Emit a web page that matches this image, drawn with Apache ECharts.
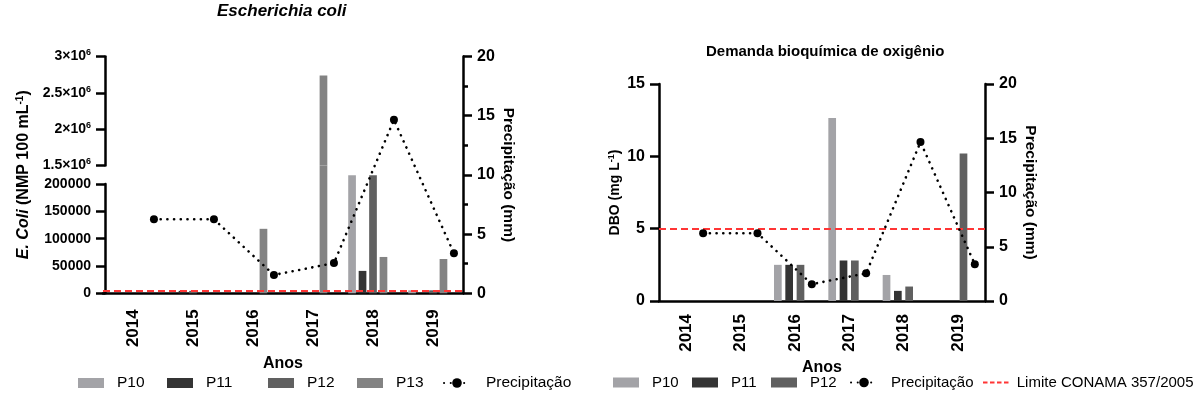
<!DOCTYPE html>
<html>
<head>
<meta charset="utf-8">
<script src="https://cdn.jsdelivr.net/npm/echarts@6/dist/echarts.min.js"></script>
<style>
  html, body { margin: 0; padding: 0; background: #fff; }
  #chart { width: 1195px; height: 401px; }
</style>
</head>
<body>
<div id="chart"></div>
<script>
// ---- data ----
const years = ['2014', '2015', '2016', '2017', '2018', '2019'];

// E. coli (NMP 100 mL-1) per sampling point
const ecoliP10 = [null, null, null, null, 216000, 5500];
const ecoliP11 = [null, 4500, null, null, 41000, null];
const ecoliP12 = [null, 4500, null, null, 216000, 5500];
const ecoliP13 = [null, null, 118000, 2740000, 66500, 62800];

// DBO (mg L-1) per sampling point
const dboP10 = [null, null, 2.5, 12.65, 1.8, null];
const dboP11 = [null, null, 2.5, 2.8, 0.7, null];
const dboP12 = [null, null, 2.5, 2.8, 1.0, 10.2];

// Precipitação (mm)
const precip = [6.25, 6.25, 1.55, 2.55, 14.65, 3.38];

// Limite CONAMA 357/2005
const limitEcoli = 4000;
const limitDbo = 5;

// axis ranges: [min, max, step]
const ecoliLowRange = [0, 200000, 50000];
const ecoliHighRange = [1500000, 3000000, 500000];
const dboRange = [0, 15, 5];
const precipRange = [0, 20, 5];

// ---- styling ----
const FONT = 'Liberation Sans, Arial, sans-serif';
const colors = { P10: '#a3a3a7', P11: '#343434', P12: '#606060', P13: '#838383' };
const RED = '#ff3535';
const AX = { color: '#000', width: 2.5 };

// left panel geometry (broken value axis: upper / gap / lower)
const L = { left: 103, width: 360, upTop: 56.5, upH: 109, lowTop: 184, lowH: 109.3 };
L.gapTop = L.upTop + L.upH;
L.gapH = L.lowTop - L.gapTop;
const gapMax = ecoliLowRange[1] + (ecoliLowRange[1] - ecoliLowRange[0]) * L.gapH / L.lowH;
// right panel geometry
const R = { left: 659, width: 326, top: 84, height: 217 };

const barW = 7.7;
const gapL = 0.36, gapR = 0.47;
const shiftL = 2 * barW * (1 + gapL);   // line sits in the 5th slot of the group
const shiftR = 1.5 * barW * (1 + gapR); // line sits in the 4th slot of the group

const grids = [
  { left: L.left, width: L.width, top: L.lowTop, height: L.lowH },              // 0 lower
  { left: L.left, width: L.width, top: L.gapTop, height: L.gapH },              // 1 gap
  { left: L.left, width: L.width, top: L.upTop, height: L.upH },                // 2 upper
  { left: L.left + shiftL, width: L.width, top: L.upTop, height: L.lowTop + L.lowH - L.upTop }, // 3 precip
  { left: R.left, width: R.width, top: R.top, height: R.height },               // 4 DBO
  { left: R.left + shiftR, width: R.width, top: R.top, height: R.height }       // 5 precip
];

function hiddenX(i) {
  return { type: 'category', gridIndex: i, data: years, show: false };
}
function visibleX(i, margin, gap) {
  return {
    type: 'category', gridIndex: i, data: years,
    axisLine: { lineStyle: AX },
    axisTick: { alignWithLabel: true, length: 10, lineStyle: AX },
    axisLabel: { rotate: 90, margin: margin, color: '#000', fontFamily: FONT, fontSize: 17, fontWeight: 'bold' },
    name: 'Anos', nameLocation: 'middle', nameGap: gap,
    nameTextStyle: { color: '#000', fontFamily: FONT, fontSize: 16, fontWeight: 'bold' }
  };
}
const xAxes = [visibleX(0, 16, 62), hiddenX(1), hiddenX(2), hiddenX(3), visibleX(4, 13, 55), hiddenX(5)];

const supRich = { sup: { fontSize: 9, fontWeight: 'bold', fontFamily: FONT, color: '#000', verticalAlign: 'top', lineHeight: 9 } };

function valueAxis(i, range, extra) {
  return Object.assign({
    type: 'value', gridIndex: i, min: range[0], max: range[1], interval: range[2],
    splitLine: { show: false },
    axisLine: { show: true, lineStyle: AX },
    axisTick: { show: true, length: 9, lineStyle: AX },
    axisLabel: { margin: 14, color: '#000', fontFamily: FONT, fontSize: 16, fontWeight: 'bold' }
  }, extra);
}

const precipAxisName = {
  name: 'Precipitação (mm)', nameLocation: 'middle', nameRotate: -90, nameGap: 37,
  nameTextStyle: { color: '#000', fontFamily: FONT, fontSize: 15.5, fontWeight: 'bold' }
};

const yAxes = [
  // 0: lower E. coli segment
  valueAxis(0, ecoliLowRange, {
    position: 'left', offset: -2,
    axisLabel: { margin: 14, color: '#000', fontFamily: FONT, fontSize: 14, fontWeight: 'bold', formatter: v => String(v) }
  }),
  // 1: gap segment (carries the axis title only)
  {
    type: 'value', gridIndex: 1, min: ecoliLowRange[1], max: gapMax, position: 'left', offset: -2,
    axisLine: { show: false }, axisTick: { show: false }, axisLabel: { show: false }, splitLine: { show: false },
    name: '{it|E. Coli} (NMP 100 mL{sup|-1})', nameLocation: 'middle', nameGap: 72,
    nameTextStyle: {
      color: '#000', fontFamily: FONT, fontSize: 16, fontWeight: 'bold', lineHeight: 18,
      rich: {
        it: { fontStyle: 'italic', fontWeight: 'bold', fontSize: 16, fontFamily: FONT, color: '#000' },
        sup: { fontSize: 10, fontWeight: 'bold', fontFamily: FONT, color: '#000', verticalAlign: 'top', lineHeight: 10 }
      }
    }
  },
  // 2: upper E. coli segment
  valueAxis(2, ecoliHighRange, {
    position: 'left', offset: -2,
    axisLabel: {
      margin: 14, color: '#000', fontFamily: FONT, fontSize: 14, fontWeight: 'bold', lineHeight: 16,
      formatter: v => (v / 1e6) + '×10{sup|6}',
      rich: supRich
    }
  }),
  // 3: precipitation (left panel)
  valueAxis(3, precipRange, Object.assign({
    position: 'right', offset: -shiftL,
    minorTick: { show: true, splitNumber: 2, length: 5, lineStyle: AX }
  }, precipAxisName)),
  // 4: DBO
  valueAxis(4, dboRange, {
    position: 'left',
    name: 'DBO (mg L{sup|-1})', nameLocation: 'middle', nameGap: 25,
    nameTextStyle: {
      color: '#000', fontFamily: FONT, fontSize: 14, fontWeight: 'bold', lineHeight: 16,
      rich: { sup: { fontSize: 9, fontWeight: 'bold', fontFamily: FONT, color: '#000', verticalAlign: 'top', lineHeight: 9 } }
    }
  }),
  // 5: precipitation (right panel)
  valueAxis(5, precipRange, Object.assign({ position: 'right', offset: -shiftR }, precipAxisName))
];

function bar(name, data, g, gap) {
  return {
    type: 'bar', name: name, data: data, xAxisIndex: g, yAxisIndex: g,
    barWidth: barW, barGap: Math.round(gap * 100) + '%',
    itemStyle: { color: colors[name] }, silent: true, clip: true
  };
}
function slot(g, gap) {
  // empty bar that reserves the precipitation position in each group
  return { type: 'bar', data: years.map(() => null), xAxisIndex: g, yAxisIndex: g,
    barWidth: barW, barGap: Math.round(gap * 100) + '%', silent: true };
}
function precipLine(g) {
  return {
    type: 'line', name: 'Precipitação', data: precip, xAxisIndex: g, yAxisIndex: g,
    symbol: 'circle', symbolSize: 8, z: 10, silent: true,
    itemStyle: { color: '#000' },
    lineStyle: { color: '#000', width: 2.6, type: [0.1, 6.6], cap: 'round' }
  };
}
function limitLine(name, value, g) {
  return {
    type: 'line', name: name, data: years.map(() => null), xAxisIndex: g, yAxisIndex: g,
    symbol: 'none', z: 8, silent: true,
    itemStyle: { color: RED },
    lineStyle: { color: RED, width: 2, type: [7, 4] },
    markLine: {
      silent: true, symbol: 'none', label: { show: false },
      lineStyle: { color: RED, width: 2, type: [7, 4] },
      data: [{ yAxis: value }]
    }
  };
}

const series = [];
[0, 1, 2].forEach(g => {
  series.push(bar('P10', ecoliP10, g, gapL), bar('P11', ecoliP11, g, gapL),
              bar('P12', ecoliP12, g, gapL), bar('P13', ecoliP13, g, gapL), slot(g, gapL));
});
series.push(limitLine('limiteEcoli', limitEcoli, 0));
series.push(precipLine(3));
series.push(bar('P10', dboP10, 4, gapR), bar('P11', dboP11, 4, gapR), bar('P12', dboP12, 4, gapR), slot(4, gapR));
series.push(limitLine('Limite CONAMA 357/2005', limitDbo, 4));
series.push(precipLine(5));

// legends, one entry each: [name, left, icon, text gap, font size]
const dashIcon = 'path://M0,0H4.5V2H0Z M7,0H11.5V2H7Z M14,0H18.5V2H14Z M21,0H25.5V2H21Z';
const legendEntries = [
  ['P10', 78, 'rect', 8, 15.5], ['P11', 167, 'rect', 8, 15.5], ['P12', 268, 'rect', 8, 15.5],
  ['P13', 357, 'rect', 8, 15.5], ['Precipitação', 443, null, 11, 15.5],
  ['P10', 613, 'rect', 8, 15], ['P11', 692, 'rect', 8, 15], ['P12', 771, 'rect', 8, 15],
  ['Precipitação', 850, null, 9, 15],
  ['Limite CONAMA 357/2005', 983, dashIcon, 3, 15]
];
const legends = legendEntries.map(([name, x, icon, pad, fs]) => {
  const lg = {
    data: [name], left: x, top: 375, selectedMode: false,
    itemWidth: 26, itemHeight: icon === dashIcon ? 2 : (icon ? 10 : 12), padding: 0,
    textStyle: { color: '#000', fontFamily: FONT, fontSize: fs, padding: [0, 0, 0, pad] }
  };
  if (icon) lg.icon = icon;
  return lg;
});

const chart = echarts.init(document.getElementById('chart'), null, { renderer: 'canvas' });
chart.setOption({
  animation: false,
  backgroundColor: '#fff',
  grid: grids,
  xAxis: xAxes,
  yAxis: yAxes,
  legend: legends,
  series: series,
  graphic: [
    { type: 'text', left: 283 - 66, top: 3, style: { text: 'Escherichia coli', fill: '#000', font: 'italic bold 17px ' + FONT } },
    { type: 'text', left: 822 - 116, top: 44, style: { text: 'Demanda bioquímica de oxigênio', fill: '#000', font: 'bold 15px ' + FONT } }
  ]
});
</script>
</body>
</html>
